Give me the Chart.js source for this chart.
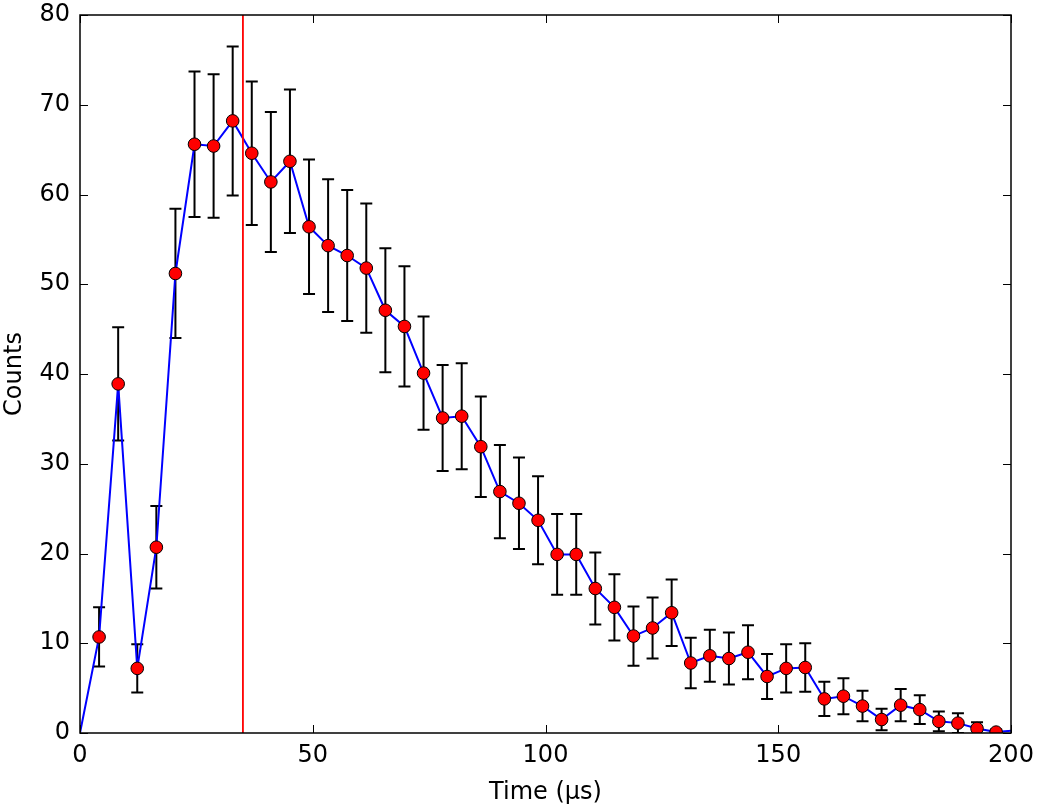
<!DOCTYPE html>
<html>
<head>
<meta charset="utf-8">
<script src="https://cdn.jsdelivr.net/npm/chart.js@4/dist/chart.umd.min.js"></script>
<style>
  body { margin: 0; background: #fff; }
  #wrap { width: 1037px; height: 812px; }
</style>
</head>
<body>
<div id="wrap"><canvas id="countsChart"></canvas></div>
<script>
// bin positions (µs) and counts
const times = [0, 4.1, 8.2, 12.3, 16.4, 20.5, 24.6, 28.7, 32.8, 36.9, 41.0, 45.1, 49.2, 53.3, 57.4, 61.5,
    65.6, 69.7, 73.8, 77.9, 82.0, 86.1, 90.2, 94.3, 98.4, 102.5, 106.6, 110.7, 114.8, 118.9, 123.0, 127.1,
    131.2, 135.3, 139.4, 143.5, 147.6, 151.7, 155.8, 159.9, 164.0, 168.1, 172.2, 176.3, 180.4, 184.5,
    188.6, 192.7, 196.8, 200.9];
const counts = [0, 10.7, 38.9, 7.2, 20.7, 51.2, 65.6, 65.4, 68.2, 64.6, 61.4, 63.7, 56.4, 54.3, 53.2, 51.8,
    47.1, 45.3, 40.1, 35.1, 35.3, 31.9, 26.9, 25.6, 23.7, 19.9, 19.9, 16.1, 14.0, 10.8, 11.7, 13.4,
    7.8, 8.6, 8.3, 9.0, 6.3, 7.2, 7.3, 3.8, 4.1, 3.0, 1.5, 3.1, 2.6, 1.3,
    1.1, 0.5, 0.1, 0.3];
const errors = [0, 3.3, 6.3, 2.7, 4.6, 7.2, 8.1, 8.0, 8.3, 8.0, 7.8, 8.0, 7.5, 7.4, 7.3, 7.2,
    6.9, 6.7, 6.3, 5.9, 5.9, 5.6, 5.2, 5.1, 4.9, 4.5, 4.5, 4.0, 3.7, 3.3, 3.4, 3.7,
    2.8, 2.9, 2.9, 3.0, 2.5, 2.7, 2.7, 1.9, 2.0, 1.7, 1.2, 1.8, 1.6, 1.1,
    1.1, 0.7, 0.3, 0];
const markerFrom = 1, markerTo = 48;   // first and last bins have no marker
const cutTime = 35;                    // red vertical line
const xTicks = [0, 50, 100, 150, 200];
const yTicks = [0, 10, 20, 30, 40, 50, 60, 70, 80];

const linePts = times.map((t, i) => ({ x: t, y: counts[i] }));
const markerPts = linePts.slice(markerFrom, markerTo + 1);

const FONT = { family: 'DejaVu Sans', size: 24 };

const errorBars = {
    id: 'errorBars',
    beforeDatasetsDraw(chart) {
        const { ctx, chartArea: a, scales: { x, y } } = chart;
        ctx.save();
        ctx.beginPath();
        ctx.rect(a.left, a.top, a.right - a.left, a.bottom - a.top);
        ctx.clip();
        ctx.strokeStyle = '#000';
        ctx.lineWidth = 2;
        for (let i = markerFrom; i <= markerTo; i++) {
            const px = x.getPixelForValue(times[i]);
            const top = y.getPixelForValue(counts[i] + errors[i]);
            const bot = y.getPixelForValue(counts[i] - errors[i]);
            ctx.beginPath();
            ctx.moveTo(px, top); ctx.lineTo(px, bot);
            ctx.moveTo(px - 6, top); ctx.lineTo(px + 6, top);
            ctx.moveTo(px - 6, bot); ctx.lineTo(px + 6, bot);
            ctx.stroke();
        }
        ctx.restore();
    }
};

const frame = {
    id: 'frame',
    afterDraw(chart) {
        const { ctx, chartArea: a, scales: { x, y } } = chart;
        ctx.save();
        // red marker line
        const cx = x.getPixelForValue(cutTime);
        ctx.strokeStyle = '#ff0000';
        ctx.lineWidth = 1.8;
        ctx.beginPath();
        ctx.moveTo(cx, a.top); ctx.lineTo(cx, a.bottom);
        ctx.stroke();
        // inward ticks on all sides
        ctx.strokeStyle = '#000';
        ctx.lineWidth = 1;
        const L = 8;
        ctx.beginPath();
        xTicks.forEach(v => {
            const p = Math.round(x.getPixelForValue(v)) + 0.5;
            ctx.moveTo(p, a.bottom); ctx.lineTo(p, a.bottom - L);
            ctx.moveTo(p, a.top); ctx.lineTo(p, a.top + L);
        });
        yTicks.forEach(v => {
            const p = Math.round(y.getPixelForValue(v)) + 0.5;
            ctx.moveTo(a.left, p); ctx.lineTo(a.left + L, p);
            ctx.moveTo(a.right, p); ctx.lineTo(a.right - L, p);
        });
        ctx.stroke();
        ctx.lineWidth = 1.5;
        ctx.strokeRect(a.left, a.top, a.right - a.left, a.bottom - a.top);
        ctx.restore();
    }
};

const bg = {
    id: 'bg',
    beforeDraw(chart) {
        const ctx = chart.ctx;
        ctx.save();
        ctx.fillStyle = '#fff';
        ctx.fillRect(0, 0, chart.width, chart.height);
        ctx.restore();
    }
};

new Chart(document.getElementById('countsChart'), {
    type: 'scatter',
    data: {
        datasets: [{
            label: 'markers',
            data: markerPts,
            showLine: false,
            pointRadius: 6.3,
            pointBackgroundColor: '#ff0000',
            pointBorderColor: '#000',
            pointBorderWidth: 1,
            order: 0
        }, {
            label: 'line',
            data: linePts,
            showLine: true,
            borderColor: '#0000ff',
            borderWidth: 2,
            pointRadius: 0,
            order: 1
        }]
    },
    options: {
        responsive: true,
        maintainAspectRatio: false,
        animation: false,
        layout: { padding: { top: 15, right: 26, left: 0, bottom: 0 } },
        plugins: { legend: { display: false }, tooltip: { enabled: false } },
        scales: {
            x: {
                type: 'linear', min: 0, max: 200,
                afterBuildTicks: s => { s.ticks = xTicks.map(v => ({ value: v })); },
                afterFit: s => { s.height = 79; s.paddingLeft = 0; s.paddingRight = 0; },
                grid: { display: false, drawTicks: false },
                border: { display: false },
                ticks: { color: '#000', font: FONT, padding: 8, maxRotation: 0 },
                title: { display: true, text: 'Time (μs)', color: '#000', font: FONT, padding: { bottom: 5 } }
            },
            y: {
                type: 'linear', min: 0, max: 80,
                afterBuildTicks: s => { s.ticks = yTicks.map(v => ({ value: v })); },
                afterFit: s => { s.width = 80; s.paddingTop = 0; s.paddingBottom = 0; },
                grid: { display: false, drawTicks: false },
                border: { display: false },
                ticks: { color: '#000', font: FONT, padding: 10 },
                title: { display: true, text: 'Counts', color: '#000', font: FONT, padding: { top: 0 } }
            }
        }
    },
    plugins: [bg, errorBars, frame]
});
</script>
</body>
</html>
